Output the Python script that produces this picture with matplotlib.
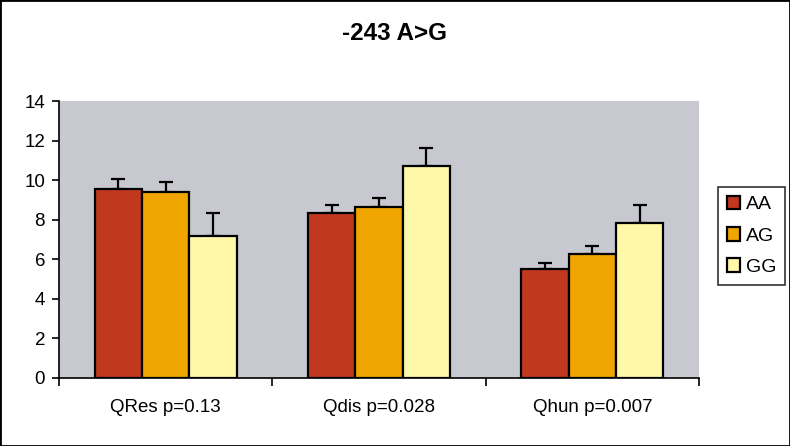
import numpy as np
import matplotlib.pyplot as plt
from matplotlib.patches import Rectangle

categories = ["QRes p=0.13", "Qdis p=0.028", "Qhun p=0.007"]
genotypes = ["AA", "AG", "GG"]
means = {
    "AA": [9.55, 8.33, 5.52],
    "AG": [9.39, 8.62, 6.25],
    "GG": [7.17, 10.71, 7.81],
}
errors = {
    "AA": [0.50, 0.41, 0.30],
    "AG": [0.51, 0.48, 0.42],
    "GG": [1.15, 0.91, 0.93],
}
colors = {"AA": "#C0391E", "AG": "#F0A500", "GG": "#FFF8A8"}
FONT = ["Liberation Sans", "DejaVu Sans"]

fig = plt.figure(figsize=(7.9, 4.46), dpi=100)
fig.patch.set_facecolor("white")
fig.add_artist(Rectangle((0, 0), 1, 1, transform=fig.transFigure, fill=False,
                         edgecolor="black", linewidth=2))

ax = fig.add_axes([0.0747, 0.1525, 0.8101, 0.621])
ax.set_facecolor("#C8C8D0")

x = np.arange(len(categories))
width = 0.222
for i, g in enumerate(genotypes):
    pos = x + (i - 1) * width
    ax.bar(pos, means[g], width, color=colors[g], edgecolor="black",
           linewidth=1.6, label=g, zorder=3)
    ax.errorbar(pos, means[g], yerr=[np.zeros(3), errors[g]], fmt="none",
                ecolor="black", elinewidth=1.6, capsize=4.7, capthick=1.6, zorder=2)

ax.set_xlim(-0.5, 2.5)
ax.set_ylim(0, 14)
ax.set_yticks(range(0, 15, 2))
ax.set_xticks([-0.5, 0.5, 1.5, 2.5])
ax.set_xticklabels([])
ax.set_xticks(x, minor=True)
ax.set_xticklabels(categories, minor=True)
ax.tick_params(axis="x", which="minor", length=0, pad=15, labelsize=13.5)
ax.tick_params(axis="x", which="major", direction="out", length=6, width=1.2)
ax.tick_params(axis="y", direction="out", length=5, width=1.2, labelsize=13.5, pad=5)

for side in ["top", "right"]:
    ax.spines[side].set_visible(False)
for side in ["left", "bottom"]:
    ax.spines[side].set_linewidth(1.2)

for lbl in ax.get_xticklabels(minor=True) + ax.get_yticklabels():
    lbl.set_family(FONT)

leg = ax.legend(loc="upper left", bbox_to_anchor=(1.0297, 0.6895), frameon=True,
                fancybox=False, edgecolor="black",
                prop={"family": FONT, "size": 14},
                handlelength=0.7, handleheight=0.7, handletextpad=0.3,
                borderpad=0.45, labelspacing=0.7, borderaxespad=0)
leg.get_frame().set_linewidth(1.2)

fig.text(0.5, 0.925, "-243 A>G", ha="center", va="center", fontsize=17.5,
         fontweight="bold", family=FONT)

fig.savefig("out.png", dpi=100)
